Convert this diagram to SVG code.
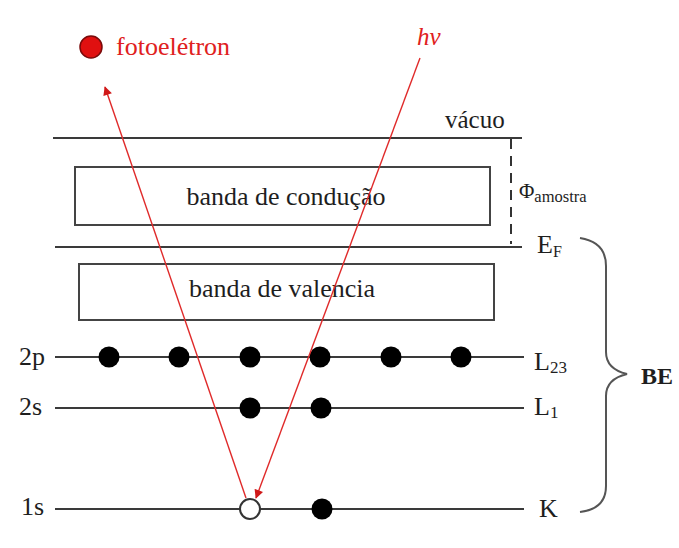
<svg xmlns="http://www.w3.org/2000/svg" width="679" height="548" viewBox="0 0 679 548">
  <style>
    .lvl { stroke: #3a3a3a; stroke-width: 2; fill: none; }
    .box { stroke: #444; stroke-width: 2; fill: #fff; }
    .t { font-family: "Liberation Serif", "Times New Roman", serif; fill: #1e1e1e; }
    .red { font-family: "Liberation Serif", "Times New Roman", serif; fill: #e02020; }
    .e { fill: #000; }
    .ray { stroke: #e02a2a; stroke-width: 1.4; fill: none; }
  </style>
  <defs>
    <marker id="ah" viewBox="0 0 10 10" refX="9" refY="5" markerWidth="10" markerHeight="9" markerUnits="userSpaceOnUse" orient="auto">
      <path d="M0,0 L10,5 L0,10 z" fill="#d01818"/>
    </marker>
  </defs>
  <rect width="679" height="548" fill="#fff"/>

  <!-- legend -->
  <g id="legend">
    <circle cx="91" cy="47" r="11" fill="#e01010" stroke="#7a0a0a" stroke-width="1.5"/>
    <text class="red" x="116" y="55" font-size="26">fotoelétron</text>
  </g>

  <!-- vacuum level -->
  <g id="vacuo">
    <line class="lvl" x1="53" y1="138" x2="522" y2="138"/>
    <text class="t" x="445" y="128" font-size="25">vácuo</text>
  </g>

  <!-- work function -->
  <g id="phi">
    <line x1="511" y1="139" x2="511" y2="244" stroke="#333" stroke-width="2" stroke-dasharray="10,7"/>
    <text class="t" x="519" y="198" font-size="21">Φ<tspan font-size="16.5" dy="4">amostra</tspan></text>
  </g>

  <!-- conduction band -->
  <g id="conducao">
    <rect class="box" x="75" y="167" width="415" height="58"/>
    <text class="t" x="286" y="205" font-size="26" text-anchor="middle">banda de condução</text>
  </g>

  <!-- Fermi level -->
  <g id="fermi">
    <line class="lvl" x1="55" y1="247" x2="522" y2="247"/>
    <text class="t" x="537" y="253" font-size="26">E<tspan font-size="16" dy="4">F</tspan></text>
  </g>

  <!-- valence band -->
  <g id="valencia">
    <rect class="box" x="79" y="264" width="415" height="56"/>
    <text class="t" x="282" y="297" font-size="26" text-anchor="middle">banda de valencia</text>
  </g>

  <!-- 2p / L23 -->
  <g id="n2p">
    <text class="t" x="19" y="365" font-size="26">2p</text>
    <line class="lvl" x1="55" y1="357" x2="524" y2="357"/>
    <circle class="e" cx="109" cy="357" r="10.5"/>
    <circle class="e" cx="179" cy="357" r="10.5"/>
    <circle class="e" cx="250" cy="357" r="10.5"/>
    <circle class="e" cx="320" cy="357" r="10.5"/>
    <circle class="e" cx="391" cy="357" r="10.5"/>
    <circle class="e" cx="461" cy="357" r="10.5"/>
    <text class="t" x="534" y="370" font-size="26">L<tspan font-size="17" dy="3">23</tspan></text>
  </g>

  <!-- 2s / L1 -->
  <g id="n2s">
    <text class="t" x="19" y="415" font-size="26">2s</text>
    <line class="lvl" x1="55" y1="408" x2="524" y2="408"/>
    <circle class="e" cx="250" cy="408" r="10.5"/>
    <circle class="e" cx="321" cy="408" r="10.5"/>
    <text class="t" x="534" y="415" font-size="26">L<tspan font-size="17" dy="3">1</tspan></text>
  </g>

  <!-- 1s / K -->
  <g id="n1s">
    <text class="t" x="21" y="515" font-size="26">1s</text>
    <line class="lvl" x1="55" y1="509" x2="524" y2="509"/>
    <circle cx="250" cy="509" r="10" fill="#fff" stroke="#333" stroke-width="2"/>
    <circle class="e" cx="322" cy="509" r="10.5"/>
    <text class="t" x="539" y="517" font-size="26">K</text>
  </g>

  <!-- binding energy brace -->
  <g id="be">
    <path d="M580,238 Q606,242 606,266 L606,352 Q606,369 627,374 Q606,379 606,396 L606,486 Q606,509 580,512" stroke="#555" stroke-width="2" fill="none"/>
    <text class="t" x="641" y="384" font-size="24" font-weight="bold">BE</text>
  </g>

  <!-- photon and photoelectron paths -->
  <g id="connectors">
    <line class="ray" x1="420" y1="58" x2="256" y2="498" marker-end="url(#ah)"/>
    <line class="ray" x1="246" y1="498" x2="105" y2="87" marker-end="url(#ah)"/>
    <text class="red" x="417" y="45" font-size="25" font-style="italic">hν</text>
  </g>
</svg>
